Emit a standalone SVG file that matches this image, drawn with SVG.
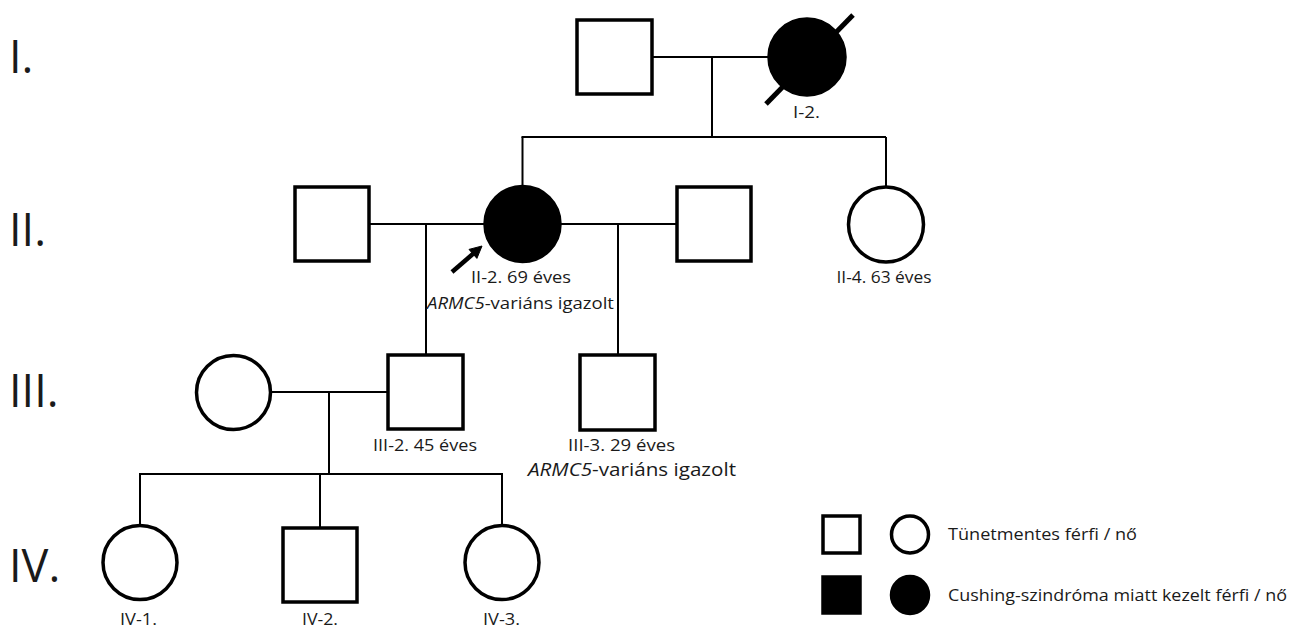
<svg xmlns="http://www.w3.org/2000/svg" width="1290" height="628" viewBox="0 0 1290 628">
<style>
.sym{fill:#fff;stroke:#000;stroke-width:3.5}
.aff{fill:#000;stroke:#000;stroke-width:3.5}
.ln{stroke:#000;stroke-width:2;fill:none}
text{font-family:"Open Sans","Liberation Sans",sans-serif;fill:#1a1a1a}
.gen{font-size:45px}
.lbl{font-size:17px;text-anchor:middle}
.sm{font-size:16px;text-anchor:middle}
.leg{font-size:17px}
</style>
<rect width="1290" height="628" fill="#fff"/>
<g id="connectors">
<line class="ln" x1="652" y1="57" x2="769" y2="57"/>
<line class="ln" x1="712" y1="57" x2="712" y2="137"/>
<line class="ln" x1="521.5" y1="137" x2="886" y2="137"/>
<line class="ln" x1="522.5" y1="137" x2="522.5" y2="187"/>
<line class="ln" x1="886" y1="137" x2="886" y2="187"/>
<line class="ln" x1="369" y1="224" x2="485" y2="224"/>
<line class="ln" x1="426" y1="224" x2="426" y2="355"/>
<line class="ln" x1="560" y1="224" x2="677" y2="224"/>
<line class="ln" x1="618" y1="224" x2="618" y2="355"/>
<line class="ln" x1="270" y1="392" x2="388" y2="392"/>
<line class="ln" x1="329" y1="392" x2="329" y2="474"/>
<line class="ln" x1="139" y1="474" x2="503" y2="474"/>
<line class="ln" x1="140" y1="474" x2="140" y2="526"/>
<line class="ln" x1="320" y1="474" x2="320" y2="528"/>
<line class="ln" x1="502" y1="474" x2="502" y2="526"/>
</g>
<g id="gen-labels">
<text class="gen" x="9" y="73">I.</text>
<text class="gen" x="9" y="246">II.</text>
<text class="gen" x="9" y="407">III.</text>
<text class="gen" x="9" y="582">IV.</text>
</g>
<g id="I-1"><rect class="sym" x="577" y="20" width="75" height="74"/></g>
<g id="I-2">
<circle class="aff" cx="807" cy="57" r="38"/>
<line x1="766" y1="104" x2="853" y2="15" stroke="#000" stroke-width="5"/>
<text class="sm" x="806.5" y="118" textLength="27" lengthAdjust="spacingAndGlyphs">I-2.</text>
</g>
<g id="II-1"><rect class="sym" x="295" y="187" width="74" height="74"/></g>
<g id="II-2">
<circle class="aff" cx="522.5" cy="224" r="37.5"/>
<line x1="452" y1="272" x2="474" y2="253" stroke="#000" stroke-width="4.5"/>
<polygon points="482,246 476.9,258.4 469,249.4" fill="#000" stroke="#000" stroke-width="1"/>
<text class="lbl" x="521" y="283" textLength="100" lengthAdjust="spacingAndGlyphs">II-2. 69 éves</text>
<text class="lbl" x="520.5" y="309" textLength="187" lengthAdjust="spacingAndGlyphs"><tspan font-style="italic">ARMC5</tspan>-variáns igazolt</text>
</g>
<g id="II-3"><rect class="sym" x="677" y="187" width="74" height="74"/></g>
<g id="II-4">
<circle class="sym" cx="886" cy="224.5" r="37.5"/>
<text class="lbl" x="884" y="283" textLength="95" lengthAdjust="spacingAndGlyphs">II-4. 63 éves</text>
</g>
<g id="III-1"><circle class="sym" cx="233.5" cy="392.5" r="37"/></g>
<g id="III-2">
<rect class="sym" x="388" y="355" width="75" height="74"/>
<text class="lbl" x="425" y="451" textLength="104" lengthAdjust="spacingAndGlyphs">III-2. 45 éves</text>
</g>
<g id="III-3">
<rect class="sym" x="580" y="355" width="75" height="75"/>
<text class="lbl" x="621.5" y="451" textLength="107" lengthAdjust="spacingAndGlyphs">III-3. 29 éves</text>
<text class="lbl" x="632" y="476" style="font-size:18px" textLength="208" lengthAdjust="spacingAndGlyphs"><tspan font-style="italic">ARMC5</tspan>-variáns igazolt</text>
</g>
<g id="IV-1">
<circle class="sym" cx="140" cy="562.5" r="37"/>
<text class="sm" x="138.5" y="625" textLength="37" lengthAdjust="spacingAndGlyphs">IV-1.</text>
</g>
<g id="IV-2">
<rect class="sym" x="283" y="528" width="74" height="74"/>
<text class="sm" x="320" y="625" textLength="36" lengthAdjust="spacingAndGlyphs">IV-2.</text>
</g>
<g id="IV-3">
<circle class="sym" cx="502" cy="562.5" r="37"/>
<text class="sm" x="501.5" y="625" textLength="37" lengthAdjust="spacingAndGlyphs">IV-3.</text>
</g>
<g id="legend">
<rect class="sym" x="823" y="516" width="37" height="37" stroke-width="3"/>
<circle class="sym" cx="910" cy="534.5" r="18.5" stroke-width="3"/>
<text class="leg" x="948" y="540" textLength="189" lengthAdjust="spacingAndGlyphs">Tünetmentes férfi / nő</text>
<rect class="aff" x="823" y="577" width="37" height="36" stroke-width="1"/>
<circle class="aff" cx="910" cy="595" r="18.5" stroke-width="1"/>
<text class="leg" x="948" y="601" textLength="339" lengthAdjust="spacingAndGlyphs">Cushing-szindróma miatt kezelt férfi / nő</text>
</g>
</svg>
